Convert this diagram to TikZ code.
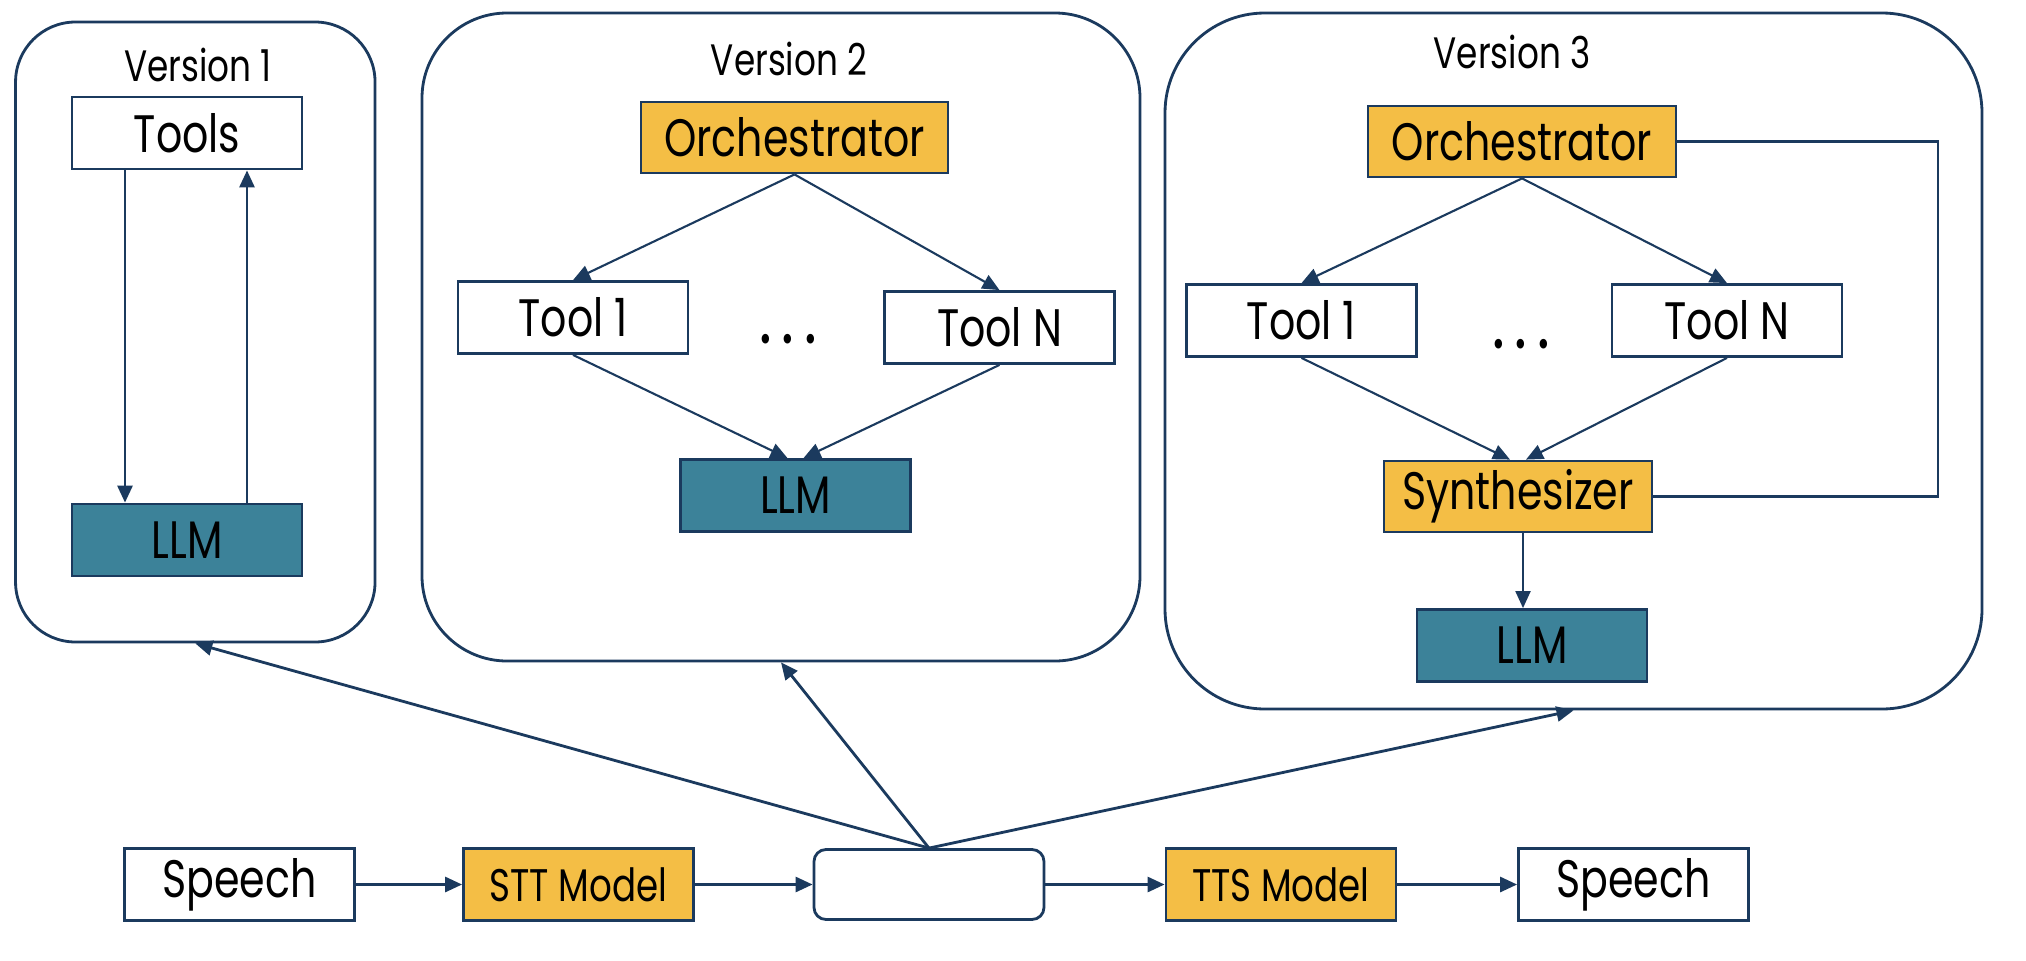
\documentclass[tikz,border=0pt]{standalone}
\usepackage{fontspec}
\setmainfont{Poppins}[FakeStretch=0.78]
\usepackage{tikz}
\usetikzlibrary{arrows.meta}
\usetikzlibrary{positioning}
\definecolor{linecol}{RGB}{27, 58, 94}
\definecolor{orch}{RGB}{244, 190, 69}
\definecolor{llmcol}{RGB}{60, 130, 153}
\tikzset{>={Triangle[length=1.7mm,width=1.5mm]}}
\tikzset{
	box/.style={draw=linecol, line width=0.8pt, fill=white, minimum width=2.3cm, minimum height=0.72cm, inner sep=0pt, font=\fontsize{15}{18}\selectfont},
	orchbox/.style={box, fill=orch},
	llmbox/.style={box, fill=llmcol},
	verbox/.style={draw=linecol, line width=0.8pt, inner sep=0pt},
	conn/.style={->, draw=linecol, line width=0.8pt},
	verlabel/.style={font=\fontsize{12.5}{15}\selectfont},
	dotsnode/.style={inner sep=0pt, font=\fontsize{22}{24}\selectfont}
}

\begin{document}
\begin{tikzpicture}
	\useasboundingbox (0,0) rectangle (20.26,9.60);

	% version boxes
	\node[verbox, rounded corners=0.6cm, minimum width=3.595cm, minimum height=6.2cm] (v1) at (1.953,6.28) {};
	\node[verbox, rounded corners=0.85cm, minimum width=7.18cm, minimum height=6.48cm] (v2) at (7.81,6.23) {};
	\node[verbox, rounded corners=1cm, minimum width=8.17cm, minimum height=6.96cm] (v3) at (15.735,5.99) {};
	\node[verlabel] (l1) at (1.98,8.95) {Version 1};
	\node[verlabel] (l2) at (7.89,9.01) {Version 2};
	\node[verlabel] (l3) at (15.12,9.08) {Version 3};

	% version 1
	\node[box] (toolsA) at (1.87,8.27) {Tools};
	\node[llmbox] (llmA) at (1.87,4.20) {LLM};
	\draw[conn] ([xshift=-0.62cm]toolsA.south) -- ([xshift=-0.62cm]llmA.north);
	\draw[conn] ([xshift=0.60cm]llmA.north) -- ([xshift=0.60cm]toolsA.south);

	% version 2
	\node[orchbox, minimum width=3.07cm, minimum height=0.71cm] (orchB) at (7.945,8.225) {Orchestrator};
	\node[box] (toolBa) at (5.73,6.425) {Tool 1};
	\node[box] (toolBn) at (9.995,6.325) {Tool N};
	\node[dotsnode] (dotsB) at (7.88,6.21) {.\hspace{0.1cm}.\hspace{0.1cm}.};
	\node[llmbox] (llmB) at (7.955,4.645) {LLM};
	\draw[conn, line width=0.6pt] (orchB.south) -- (toolBa.north);
	\draw[conn, line width=0.6pt] (orchB.south) -- (toolBn.north);
	\draw[conn, line width=0.6pt] (toolBa.south) -- ([xshift=-0.08cm]llmB.north);
	\draw[conn, line width=0.6pt] (toolBn.south) -- ([xshift=0.08cm]llmB.north);

	% version 3
	\node[orchbox, minimum width=3.08cm, minimum height=0.71cm] (orchC) at (15.22,8.185) {Orchestrator};
	\node[box] (toolCa) at (13.015,6.395) {Tool 1};
	\node[box] (toolCn) at (17.27,6.395) {Tool N};
	\node[dotsnode] (dotsC) at (15.21,6.16) {.\hspace{0.1cm}.\hspace{0.1cm}.};
	\node[orchbox, minimum width=2.68cm, minimum height=0.71cm] (synth) at (15.18,4.635) {Synthesizer};
	\node[llmbox] (llmC) at (15.32,3.145) {LLM};
	\coordinate (fb) at (19.38,0);
	\draw[conn, line width=0.6pt] (orchC.south) -- (toolCa.north);
	\draw[conn, line width=0.6pt] (orchC.south) -- (toolCn.north);
	\draw[conn, line width=0.6pt] (toolCa.south) -- ([xshift=-0.08cm]synth.north);
	\draw[conn, line width=0.6pt] (toolCn.south) -- ([xshift=0.08cm]synth.north);
	\draw[draw=linecol, line width=0.6pt] (orchC.east) -| (fb |- synth.east) -- (synth.east);
	\draw[conn, line width=0.6pt] ([xshift=0.05cm]synth.south) -- ([xshift=0.05cm]synth.south |- llmC.north);

	% pipeline
	\node[box] (speechA) at (2.395,0.755) {Speech};
	\node[orchbox, font=\fontsize{13}{16}\selectfont] (stt) at (5.785,0.755) {STT Model};
	\node[box, rounded corners=0.12cm, minimum height=0.70cm] (mid) at (9.29,0.755) {};
	\node[orchbox, font=\fontsize{13}{16}\selectfont] (tts) at (12.81,0.755) {TTS Model};
	\node[box] (speechB) at (16.335,0.755) {Speech};
	\draw[conn] (speechA) -- (stt);
	\draw[conn] (stt) -- (mid);
	\draw[conn] (mid) -- (tts);
	\draw[conn] (tts) -- (speechB);

	\draw[conn] (mid.north) -- (v1.south);
	\draw[conn] (mid.north) -- (v2.south);
	\draw[conn] (mid.north) -- (v3.south);
\end{tikzpicture}
\end{document}
